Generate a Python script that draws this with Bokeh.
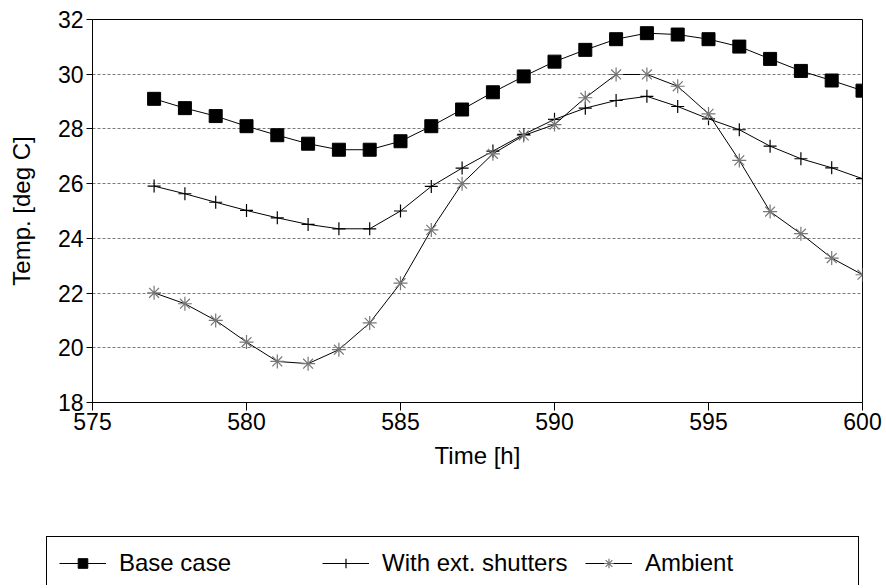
from bokeh.plotting import figure
from bokeh.models import Range1d, FixedTicker, Legend, LegendItem
from bokeh.layouts import column
from bokeh.embed import file_html
from bokeh.resources import INLINE

hours = list(range(577, 601))
base_case = [29.10, 28.76, 28.47, 28.10, 27.77, 27.46, 27.24, 27.24, 27.55, 28.10,
             28.71, 29.34, 29.92, 30.46, 30.89, 31.28, 31.50, 31.45, 31.28, 31.01,
             30.56, 30.12, 29.77, 29.40]
shutters = [25.91, 25.63, 25.32, 25.02, 24.75, 24.51, 24.35, 24.35, 25.00, 25.90,
            26.57, 27.19, 27.80, 28.35, 28.76, 29.04, 29.19, 28.82, 28.37, 27.97,
            27.37, 26.91, 26.58, 26.18]
ambient = [22.01, 21.61, 21.00, 20.21, 19.50, 19.42, 19.93, 20.91, 22.36, 24.31,
           26.00, 27.09, 27.76, 28.16, 29.14, 29.99, 29.99, 29.56, 28.55, 26.85,
           24.98, 24.17, 23.28, 22.67]
x_ticks = [575, 580, 585, 590, 595, 600]
y_ticks = [18, 20, 22, 24, 26, 28, 30, 32]
grid_ticks = [20, 22, 24, 26, 28, 30]
labels = ["Base case", "With ext. shutters", "Ambient"]

FONT = "Liberation Sans"

p = figure(width=886, height=500, x_range=Range1d(575, 600), y_range=Range1d(18, 32),
           output_backend="svg", toolbar_location=None,
           min_border_left=92, min_border_right=24, min_border_top=19, min_border_bottom=98)
p.frame_align = False

p.outline_line_color = "black"
p.outline_line_width = 1
p.background_fill_color = "white"
p.border_fill_color = "white"

p.xgrid.visible = False
p.ygrid.ticker = FixedTicker(ticks=grid_ticks)
p.ygrid.grid_line_color = "#7a7a7a"
p.ygrid.grid_line_dash = "3 2"
p.ygrid.grid_line_width = 1

for ax, ticks in ((p.xaxis, x_ticks), (p.yaxis, y_ticks)):
    ax.ticker = FixedTicker(ticks=ticks)
    ax.axis_line_color = "black"
    ax.major_tick_line_color = "black"
    ax.major_tick_in = 0
    ax.minor_tick_in = 0
    ax.minor_tick_out = 0
    ax.major_label_text_font = FONT
    ax.major_label_text_font_size = "23px"
    ax.major_label_text_color = "black"
    ax.axis_label_text_font = FONT
    ax.axis_label_text_font_size = "24px"
    ax.axis_label_text_font_style = "normal"
    ax.axis_label_text_color = "black"

p.xaxis.major_tick_out = 8
p.xaxis.major_label_standoff = 2
p.xaxis.axis_label = "Time [h]"
p.xaxis.axis_label_standoff = 9
p.yaxis.major_tick_out = 6
p.yaxis.major_label_standoff = 3
p.yaxis.axis_label = "Temp. [deg C]"
p.yaxis.axis_label_standoff = 20

styles = [
    dict(marker="square", size=13, fill_color="black", line_color="black", line_width=1),
    dict(marker="cross", size=13, line_color="black", line_width=1.2),
    dict(marker="asterisk", size=14, line_color="#777777", line_width=1.2),
]
series = [base_case, shutters, ambient]

for ys, st in zip(series, styles):
    p.line(hours, ys, line_color="black", line_width=1)
    p.scatter(hours, ys, **st)

# legend panel: a second, axis-less figure whose frame holds only the legend
q = figure(width=886, height=88, x_range=Range1d(0, 1), y_range=Range1d(0, 1),
           output_backend="svg", toolbar_location=None,
           x_axis_type=None, y_axis_type=None,
           min_border_left=0, min_border_right=0, min_border_top=0, min_border_bottom=3)
q.frame_align = False
q.outline_line_color = None
q.background_fill_color = "white"
q.border_fill_color = "white"

items = []
for ys, st, lab in zip(series, styles, labels):
    r_line = q.line(hours, ys, line_color="black", line_width=1)
    r_mark = q.scatter(hours, ys, **st)
    items.append(LegendItem(label=lab, renderers=[r_line, r_mark]))

legend = Legend(items=items, location=(46, -5), orientation="horizontal",
                background_fill_color="white", background_fill_alpha=1,
                border_line_color="black", border_line_width=1, border_line_alpha=1,
                padding=12, margin=0, spacing=2,
                glyph_width=47, glyph_height=24, label_height=24, label_width=201,
                label_standoff=13, label_text_font=FONT, label_text_font_size="24px",
                label_text_color="black")
q.add_layout(legend)

open("out.html", "w").write(file_html(column(p, q, spacing=0), INLINE))
